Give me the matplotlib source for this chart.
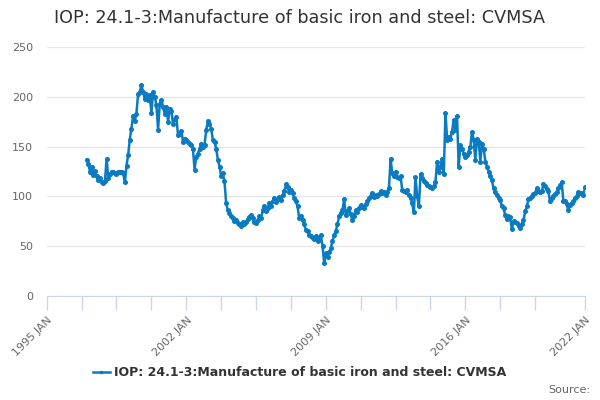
import numpy as np
import pandas as pd
import matplotlib
matplotlib.use('Agg')
from matplotlib import pyplot as plt
import matplotlib.dates as mdates

# %% data (monthly index, 1997 JAN - 2022 JAN)
title = 'IOP: 24.1-3:Manufacture of basic iron and steel: CVMSA'
start = '1997-01-01'
values = [
    137, 133, 125, 130, 121, 126, 120, 116, 118, 114, 113, 115,  # 1997
    138, 118, 122, 125, 124, 123, 122, 124, 125, 124, 123, 114,  # 1998
    131, 142, 157, 168, 181, 176, 183, 203, 205, 212, 205, 198,  # 1999
    203, 197, 202, 184, 205, 200, 192, 167, 193, 197, 190, 183,  # 2000
    190, 175, 188, 186, 173, 178, 180, 162, 163, 166, 155, 158,  # 2001
    157, 155, 153, 152, 148, 127, 140, 143, 148, 153, 150, 152,  # 2002
    167, 176, 173, 168, 157, 155, 148, 137, 130, 120, 123, 115,  # 2003
    93, 86, 83, 80, 78, 75, 76, 73, 72, 70, 74, 72,  # 2004
    74, 77, 79, 81, 78, 74, 73, 76, 80, 78, 86, 90,  # 2005
    85, 88, 93, 90, 95, 98, 94, 97, 99, 96, 101, 105,  # 2006
    112, 109, 104, 106, 103, 98, 95, 90, 78, 80, 76, 72,  # 2007
    66, 65, 61, 60, 58, 57, 60, 55, 58, 61, 50, 33,  # 2008
    43, 39, 44, 48, 55, 61, 65, 72, 80, 83, 86, 97,  # 2009
    81, 85, 88, 82, 76, 80, 86, 84, 88, 91, 89, 88,  # 2010
    92, 95, 98, 100, 103, 99, 101, 100, 102, 105, 103, 104,  # 2011
    101, 104, 108, 138, 123, 120, 125, 119, 118, 120, 106, 105,  # 2012
    104, 106, 101, 98, 93, 84, 119, 100, 90, 122, 118, 115,  # 2013
    113, 111, 110, 109, 108, 110, 114, 135, 125, 130, 138, 122,  # 2014
    184, 157, 160, 158, 165, 177, 167, 181, 130, 152, 148, 143,  # 2015
    140, 142, 145, 150, 165, 157, 137, 158, 155, 135, 153, 148,  # 2016
    135, 130, 125, 120, 116, 108, 104, 101, 98, 96, 90, 88,  # 2017
    81, 77, 80, 79, 67, 75, 74, 73, 70, 68, 72, 76,  # 2018
    85, 90, 97, 98, 100, 102, 103, 108, 105, 104, 105, 112,  # 2019
    110, 107, 105, 95, 98, 100, 102, 104, 108, 111, 114, 95,  # 2020
    95, 92, 86, 91, 93, 95, 98, 100, 104, 103, 103, 101,  # 2021
    109,  # 2022
]
label_years = [1995, 2002, 2009, 2016, 2022]
y_ticks = [0, 50, 100, 150, 200, 250]

dates = pd.date_range(start, periods=len(values), freq='MS')

# %% plot
fig = plt.figure(figsize=(6, 4), dpi=100)
ax = fig.add_axes([0.078, 0.26, 0.897, 0.6225])

color = '#0a7bc2'
ax.plot(dates, values, color=color, lw=1.8, marker='o', ms=2.6,
        label=title)

ax.set_ylim(0, 250)
ax.set_yticks(y_ticks)
ax.set_xlim(pd.Timestamp('1995-01-01'), pd.Timestamp('2022-01-01'))

# ticks every 21 months, plus the axis end
tick_dates = list(pd.date_range('1995-01-01', '2019-07-01', freq='21MS'))
tick_dates.append(pd.Timestamp('2022-01-01'))
ax.set_xticks(tick_dates)
labels = []
for d in tick_dates:
    labels.append(f'{d.year} JAN' if (d.month == 1 and d.year in label_years) else '')
ax.set_xticklabels(labels, rotation=45, ha='right', rotation_mode='anchor')

ax.grid(axis='y', color='#e6e6e6', lw=1)
ax.set_axisbelow(True)
for s in ['top', 'right', 'left']:
    ax.spines[s].set_visible(False)
ax.spines['bottom'].set_color('#ccd6eb')
ax.tick_params(axis='x', colors='#ccd6eb', length=10, width=1,
               labelcolor='#666666', labelsize=8)
ax.tick_params(axis='y', length=0, labelcolor='#666666', labelsize=8, pad=10)

fig.text(0.5, 0.955, title, ha='center', va='center', fontsize=12.7,
         color='#333333')

leg = fig.legend(loc='center', bbox_to_anchor=(0.5, 0.068), frameon=False,
                 prop={'weight': 'bold', 'size': 9}, labelcolor='#333333',
                 handlelength=1.3, handletextpad=0.4, markerscale=0.6)
fig.text(0.983, 0.025, 'Source:', ha='right', va='center', fontsize=8,
         color='#666666')

plt.savefig('out.png', dpi=100)
